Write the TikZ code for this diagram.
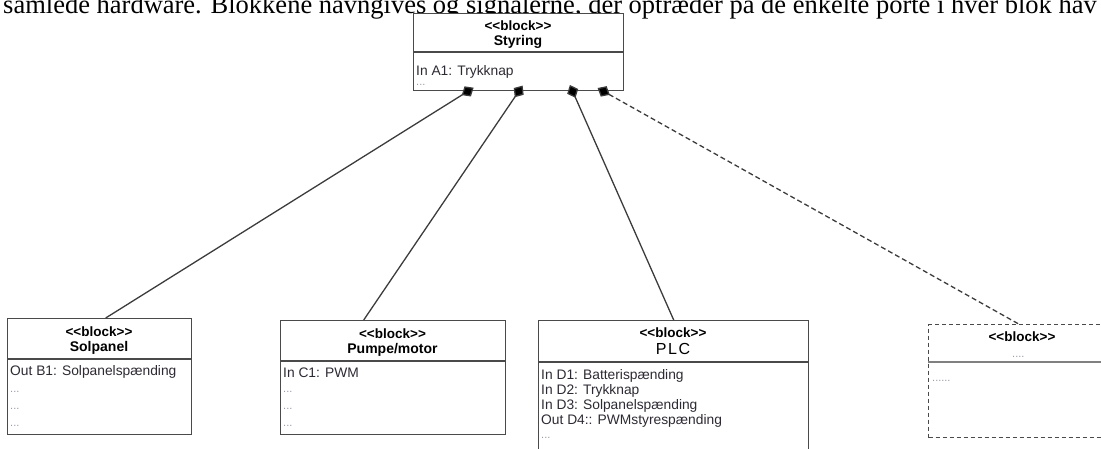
\documentclass[tikz,border=0pt]{standalone}
\usepackage{fontspec}
\setmainfont{Liberation Sans}[Ligatures=TeXOff]
\newfontfamily\bodyserif{Liberation Serif}
\usetikzlibrary{arrows.meta}

\definecolor{boxgray}{HTML}{4A4A4A}
\definecolor{linkgray}{HTML}{3C3C3C}
\definecolor{attrcol}{HTML}{2E2A33}
\definecolor{dotgray}{HTML}{9A9AA8}

\tikzset{
  blockbox/.style={draw=boxgray, line width=1.4pt, fill=white, inner sep=0pt,
    anchor=north west},
  ghostbox/.style={blockbox, dash pattern=on 4pt off 3pt},
  divider/.style={draw=boxgray, line width=1.4pt},
  stereo/.style={font=\fontsize{13.5}{15}\selectfont\bfseries, inner sep=0pt},
  bname/.style={font=\fontsize{14}{16}\selectfont\bfseries, inner sep=0pt},
  attr/.style={anchor=west, inner sep=0pt, text=attrcol,
    font=\fontsize{13.8}{15}\selectfont},
  dotsline/.style={anchor=west, inner sep=0pt, text=dotgray,
    font=\fontsize{11}{12}\selectfont},
  part/.style={draw=linkgray, line width=1.3pt,
    {Diamond[length=14pt,width=12pt,fill=black]}-, shorten <=-7pt},
  partopt/.style={part, dash pattern=on 5pt off 3pt},
}

\begin{document}
\begin{tikzpicture}[x=1pt,y=-1pt]
\useasboundingbox (0,0) rectangle (1101,448);
\clip (0,0) rectangle (1101,448);

% running text of the page above the figure
\node[anchor=base west, inner sep=0pt, font=\bodyserif\fontsize{26.5}{30}\selectfont]
  (para) at (3,13) {samlede hardware. Blokkene navngives og signalerne, der optræder på de enkelte porte i hver blok hav};

% ---- Styring ----
\node[blockbox, minimum width=210pt, minimum height=77pt] (styring) at (413,13) {};
\draw[divider] (413,52) -- (623,52);
\node[stereo] (styS) at (518,26) {<<block>>};
\node[bname]  (styN) at (518,42) {Styring};
\node[attr]   (styA1) at (416,72) {In A1: Trykknap};
\node[dotsline] (styD) at (416,85) {...};

% ---- Solpanel ----
\node[blockbox, minimum width=184pt, minimum height=116pt] (solpanel) at (7,318) {};
\draw[divider] (7,359) -- (191,359);
\node[stereo] (solS) at (99,332) {<<block>>};
\node[bname]  (solN) at (99,348) {Solpanel};
\node[attr]   (solB1) at (10,372) {Out B1: Solpanelspænding};
\node[dotsline] (solD1) at (10,392) {...};
\node[dotsline] (solD2) at (10,409) {...};
\node[dotsline] (solD3) at (10,426) {...};

% ---- Pumpe/motor ----
\node[blockbox, minimum width=225pt, minimum height=114pt] (pumpe) at (280,320) {};
\draw[divider] (280,361) -- (505,361);
\node[stereo] (pumS) at (392.5,334) {<<block>>};
\node[bname]  (pumN) at (392.5,350) {Pumpe/motor};
\node[attr]   (pumC1) at (283,373) {In C1: PWM};
\node[dotsline] (pumD1) at (283,392) {...};
\node[dotsline] (pumD2) at (283,409) {...};
\node[dotsline] (pumD3) at (283,426) {...};

% ---- PLC ----
\node[blockbox, minimum width=270pt, minimum height=145pt] (plc) at (538,320) {};
\draw[divider] (538,362) -- (808,362);
\node[stereo] (plcS) at (673,333) {<<block>>};
\node[inner sep=0pt, font=\fontsize{16}{18}\selectfont] (plcN) at (673,349) {P\kern1.5pt L\kern1.5pt C};
\node[attr] (plcD1) at (541,376) {In D1: Batterispænding};
\node[attr] (plcD2) at (541,391) {In D2: Trykknap};
\node[attr] (plcD3) at (541,406) {In D3: Solpanelspænding};
\node[attr] (plcD4) at (541,421) {Out D4:: PWMstyrespænding};
\node[dotsline] (plcD5) at (541,438) {...};

% ---- further block, not yet specified ----
\node[ghostbox, minimum width=190pt, minimum height=113pt] (extra) at (928,324) {};
\draw[draw=gray, line width=1.6pt] (928,362) -- (1118,362);
\node[stereo] (extS) at (1022,337) {<<block>>};
\node[dotsline] (extN) at (1012,357) {....};
\node[dotsline] (extD) at (932,381) {......};

% ---- part connectors from Styring ----
\draw[part]    ([xshift=-51pt]styring.south) -- ([xshift=6pt]solpanel.north);
\draw[part]    ([xshift=0pt]styring.south)   -- ([xshift=-29.5pt]pumpe.north);
\draw[part]    ([xshift=54pt]styring.south)  -- (plc.north);
\draw[partopt] ([xshift=85pt]styring.south)  -- ([xshift=-5pt]extra.north);
\end{tikzpicture}
\end{document}
